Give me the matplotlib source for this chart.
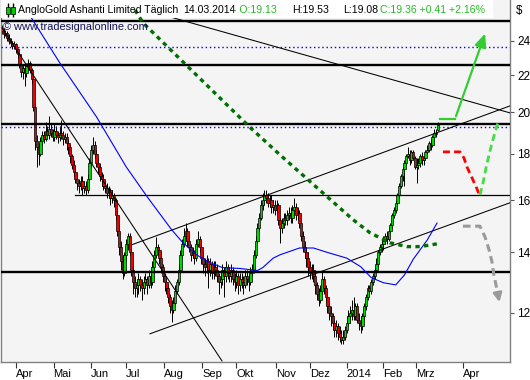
import numpy as np
import matplotlib

matplotlib.use("agg")
import matplotlib.pyplot as plt
from matplotlib.patches import Rectangle

plt.rcParams["font.family"] = ["Liberation Sans", "DejaVu Sans"]

# daily OHLC, AngloGold Ashanti (Mar 2013 - 14.03.2014)
opens = [
    24.8, 24.6, 24.4, 24.5, 24.2, 24.0, 23.9, 23.7, 23.8, 23.5,
    23.2, 22.6, 22.2, 22.4, 22.1, 22.5, 22.7, 22.3, 21.8, 20.3,
    18.6, 18.3, 18.0, 18.6, 18.9, 18.7, 19.1, 18.9, 19.2, 19.0,
    18.8, 19.1, 18.9, 18.8, 19.0, 18.9, 18.7, 18.8, 18.5, 18.3,
    17.9, 17.5, 17.2, 16.9, 16.7, 16.6, 16.8, 16.5, 16.6, 16.4,
    16.9, 17.6, 18.2, 18.4, 18.0, 17.6, 17.4, 17.0, 16.9, 16.6,
    16.5, 16.3, 16.4, 16.1, 16.2, 16.0, 15.4, 14.8, 14.2, 13.7,
    13.3, 13.9, 14.3, 14.6, 14.0, 13.4, 13.0, 12.8, 12.9, 13.1,
    12.9, 12.8, 13.0, 13.1, 12.9, 13.2, 13.0, 13.5, 13.9, 14.2,
    14.1, 13.8, 13.5, 13.2, 13.0, 12.8, 12.5, 12.2, 12.1, 12.3,
    12.7, 13.0, 13.4, 13.9, 14.3, 14.6, 14.8, 14.4, 14.2, 13.9,
    14.0, 13.8, 14.3, 14.5, 14.2, 13.8, 13.6, 13.5, 13.7, 13.4,
    13.6, 13.3, 13.5, 13.4, 13.2, 13.0, 13.1, 13.4, 13.2, 13.5,
    13.3, 13.2, 13.4, 13.1, 13.0, 13.2, 12.9, 13.1, 13.0, 12.9,
    13.2, 13.1, 13.0, 13.3, 13.4, 13.9, 14.4, 14.9, 15.3, 15.8,
    16.0, 16.2, 16.1, 15.9, 16.0, 15.7, 15.8, 15.6, 15.8, 15.2,
    14.9, 15.1, 15.3, 15.2, 15.4, 15.5, 15.3, 15.6, 15.7, 15.4,
    15.5, 15.1, 14.6, 14.2, 14.0, 13.8, 13.5, 13.3, 13.4, 13.2,
    12.9, 12.6, 12.4, 12.7, 13.1, 12.8, 12.5, 12.2, 12.0, 11.9,
    11.7, 11.5, 11.6, 11.4, 11.3, 11.2, 11.3, 11.5, 11.7, 11.9,
    12.0, 12.1, 11.9, 12.2, 11.8, 11.7, 11.6, 11.9, 12.2, 12.5,
    12.8, 12.7, 13.0, 13.2, 13.4, 13.6, 14.0, 14.2, 14.3, 14.4,
    14.6, 14.5, 14.8, 15.0, 15.4, 15.6, 15.9, 16.2, 16.6, 17.0,
    17.3, 17.6, 17.9, 18.0, 17.7, 18.1, 17.8, 17.4, 17.5, 17.6,
    17.9, 17.7, 17.8, 18.1, 18.2, 18.5, 18.4, 18.8, 19.0, 19.13,
]
highs = [
    25.0, 24.8, 24.7, 24.6, 24.4, 24.2, 24.0, 24.0, 23.9, 23.6,
    23.3, 22.8, 22.6, 22.6, 22.7, 22.9, 22.8, 22.4, 21.9, 20.5,
    18.9, 18.5, 18.8, 19.1, 19.1, 19.5, 19.3, 19.8, 19.4, 19.2,
    19.4, 19.3, 19.1, 19.3, 19.6, 19.1, 19.0, 19.0, 18.7, 18.4,
    18.0, 17.7, 17.4, 17.1, 16.9, 17.0, 17.0, 16.8, 16.8, 17.1,
    17.8, 18.4, 18.8, 18.6, 18.2, 17.8, 17.6, 17.2, 17.1, 16.8,
    16.7, 16.6, 16.5, 16.4, 16.3, 16.1, 15.6, 15.0, 14.4, 13.9,
    14.0, 14.5, 14.7, 14.7, 14.2, 13.6, 13.2, 13.1, 13.3, 13.2,
    13.1, 13.2, 13.3, 13.2, 13.4, 13.3, 13.7, 14.1, 14.55, 14.3,
    14.2, 14.0, 13.6, 13.3, 13.1, 12.9, 12.6, 12.4, 12.5, 12.9,
    13.1, 13.6, 14.1, 14.5, 14.9, 15.1, 14.9, 14.6, 14.3, 14.2,
    14.1, 14.5, 14.8, 14.6, 14.3, 14.0, 13.8, 13.9, 13.8, 13.8,
    13.7, 13.7, 13.7, 13.6, 13.3, 13.3, 13.6, 13.5, 13.7, 13.6,
    13.5, 13.6, 13.5, 13.3, 13.4, 13.3, 13.3, 13.3, 13.2, 13.4,
    13.4, 13.3, 13.5, 13.6, 14.1, 14.6, 15.1, 15.5, 16.0, 16.3,
    16.4, 16.4, 16.3, 16.2, 16.2, 16.0, 16.0, 16.0, 15.9, 15.3,
    15.3, 15.5, 15.5, 15.6, 15.7, 15.7, 15.8, 16.1, 15.9, 15.7,
    15.6, 15.2, 14.8, 14.4, 14.2, 14.0, 13.7, 13.6, 13.6, 13.3,
    13.0, 12.8, 12.9, 13.35, 13.2, 12.9, 12.7, 12.3, 12.2, 12.0,
    11.8, 11.8, 11.7, 11.6, 11.5, 11.5, 11.6, 11.9, 12.1, 12.2,
    12.4, 12.5, 12.3, 12.3, 12.0, 11.9, 12.0, 12.3, 12.6, 12.9,
    12.9, 13.1, 13.3, 13.5, 13.8, 14.1, 14.3, 14.5, 14.6, 14.7,
    14.8, 14.9, 15.1, 15.5, 15.7, 16.0, 16.3, 16.7, 17.1, 17.4,
    17.7, 18.0, 18.3, 18.2, 18.2, 18.2, 17.9, 17.8, 17.8, 18.0,
    18.1, 17.9, 18.2, 18.4, 18.6, 18.7, 18.9, 19.2, 19.2, 19.53,
]
lows = [
    24.4, 24.2, 24.3, 24.0, 23.8, 23.7, 23.5, 23.5, 23.3, 23.0,
    22.4, 21.9, 21.8, 21.4, 21.9, 22.3, 22.1, 21.5, 20.1, 18.2,
    17.4, 17.5, 17.9, 18.4, 18.5, 18.6, 18.7, 18.7, 18.8, 18.6,
    18.6, 18.7, 18.5, 18.6, 18.7, 18.4, 18.5, 18.2, 18.0, 17.6,
    17.3, 17.0, 16.7, 16.4, 16.3, 16.4, 16.2, 16.3, 16.2, 16.3,
    16.8, 17.4, 18.0, 17.8, 17.4, 17.1, 16.8, 16.6, 16.4, 16.3,
    16.1, 16.1, 15.8, 15.9, 15.7, 15.2, 14.6, 13.9, 13.4, 13.1,
    13.2, 13.7, 14.1, 13.9, 13.2, 12.6, 12.5, 12.5, 12.6, 12.7,
    12.4, 12.6, 12.8, 12.6, 12.8, 12.8, 12.9, 13.4, 13.8, 13.9,
    13.6, 13.3, 13.0, 12.7, 12.6, 12.3, 12.0, 11.73, 12.0, 12.2,
    12.6, 12.9, 13.3, 13.8, 14.2, 14.4, 14.2, 14.0, 13.7, 13.8,
    13.6, 13.7, 14.2, 14.0, 13.6, 13.3, 13.2, 13.3, 12.8, 13.2,
    13.1, 13.1, 13.2, 13.0, 12.6, 12.8, 12.9, 12.5, 13.0, 13.1,
    13.0, 13.0, 12.9, 12.7, 12.8, 12.6, 12.7, 12.8, 12.6, 12.8,
    12.9, 12.7, 12.9, 13.2, 13.3, 13.8, 14.3, 14.8, 15.2, 15.6,
    15.8, 15.9, 15.7, 15.7, 15.5, 15.5, 15.4, 15.5, 15.0, 14.35,
    14.7, 14.9, 15.0, 15.0, 15.2, 15.1, 15.1, 15.4, 15.2, 15.2,
    14.9, 14.4, 14.0, 13.8, 13.5, 13.2, 13.1, 13.1, 13.0, 12.6,
    12.4, 12.2, 12.3, 12.6, 12.6, 12.3, 12.0, 11.8, 11.6, 11.5,
    11.3, 11.3, 11.2, 11.15, 11.1, 11.1, 11.2, 11.4, 11.6, 11.7,
    11.8, 11.8, 11.8, 11.7, 11.5, 11.4, 11.5, 11.8, 12.1, 12.4,
    12.5, 12.6, 12.9, 13.1, 13.3, 13.5, 13.9, 14.0, 14.1, 14.3,
    14.3, 14.4, 14.7, 14.9, 15.3, 15.5, 15.8, 16.1, 16.5, 16.8,
    16.6, 17.5, 17.8, 17.5, 17.6, 17.7, 17.3, 16.7, 17.3, 17.4,
    17.5, 17.5, 17.7, 18.0, 18.1, 18.2, 18.3, 18.7, 18.8, 19.08,
]
closes = [
    24.6, 24.4, 24.5, 24.2, 24.0, 23.9, 23.7, 23.8, 23.5, 23.2,
    22.6, 22.2, 22.4, 22.1, 22.5, 22.7, 22.3, 21.8, 20.3, 18.6,
    18.3, 18.0, 18.6, 18.9, 18.7, 19.1, 18.9, 19.2, 19.0, 18.8,
    19.1, 18.9, 18.8, 19.0, 18.9, 18.7, 18.8, 18.5, 18.3, 17.9,
    17.5, 17.2, 16.9, 16.7, 16.6, 16.8, 16.5, 16.6, 16.4, 16.9,
    17.6, 18.2, 18.4, 18.0, 17.6, 17.4, 17.0, 16.9, 16.6, 16.5,
    16.3, 16.4, 16.1, 16.2, 16.0, 15.4, 14.8, 14.2, 13.7, 13.3,
    13.9, 14.3, 14.6, 14.0, 13.4, 13.0, 12.8, 12.9, 13.1, 12.9,
    12.8, 13.0, 13.1, 12.9, 13.2, 13.0, 13.5, 13.9, 14.2, 14.1,
    13.8, 13.5, 13.2, 13.0, 12.8, 12.5, 12.2, 12.1, 12.3, 12.7,
    13.0, 13.4, 13.9, 14.3, 14.6, 14.8, 14.4, 14.2, 13.9, 14.0,
    13.8, 14.3, 14.5, 14.2, 13.8, 13.6, 13.5, 13.7, 13.4, 13.6,
    13.3, 13.5, 13.4, 13.2, 13.0, 13.1, 13.4, 13.2, 13.5, 13.3,
    13.2, 13.4, 13.1, 13.0, 13.2, 12.9, 13.1, 13.0, 12.9, 13.2,
    13.1, 13.0, 13.3, 13.4, 13.9, 14.4, 14.9, 15.3, 15.8, 16.0,
    16.2, 16.1, 15.9, 16.0, 15.7, 15.8, 15.6, 15.8, 15.2, 14.9,
    15.1, 15.3, 15.2, 15.4, 15.5, 15.3, 15.6, 15.7, 15.4, 15.5,
    15.1, 14.6, 14.2, 14.0, 13.8, 13.5, 13.3, 13.4, 13.2, 12.9,
    12.6, 12.4, 12.7, 13.1, 12.8, 12.5, 12.2, 12.0, 11.9, 11.7,
    11.5, 11.6, 11.4, 11.3, 11.2, 11.3, 11.5, 11.7, 11.9, 12.0,
    12.1, 11.9, 12.2, 11.8, 11.7, 11.6, 11.9, 12.2, 12.5, 12.8,
    12.7, 13.0, 13.2, 13.4, 13.6, 14.0, 14.2, 14.3, 14.4, 14.6,
    14.5, 14.8, 15.0, 15.4, 15.6, 15.9, 16.2, 16.6, 17.0, 17.3,
    17.6, 17.9, 18.0, 17.7, 18.1, 17.8, 17.4, 17.5, 17.6, 17.9,
    17.7, 17.8, 18.1, 18.2, 18.5, 18.4, 18.8, 19.0, 18.95, 19.36,
]

month_pos = [7.8, 29.5, 50.9, 70.9, 92.7, 114.3, 133.9, 156.4, 176.2, 197.0, 217.9, 236.6, 263.3]
month_labels = ["Apr", "Mai", "Jun", "Jul", "Aug", "Sep", "Okt", "Nov", "Dez", "2014", "Feb", "Mrz", "Apr"]
price_ticks = [12, 14, 16, 18, 20, 22, 24]

# blue moving average (bar, price)
ma_x = [16, 33, 54, 71, 83, 97, 103, 111, 119, 126, 136, 146, 149, 155, 159, 170, 178, 186, 197, 205, 211, 218, 225, 230, 235, 243, 248.6]
ma_y = [25.6, 22.7, 19.78, 17.41, 16.13, 14.83, 14.38, 13.92, 13.64, 13.47, 13.44, 13.37, 13.47, 13.8, 13.92, 14.16, 14.16, 14.0, 13.8, 13.5, 13.13, 12.96, 12.89, 13.22, 13.76, 14.45, 15.09]

# dark green dotted average
ma2_x = [76, 80.6, 141.7, 158.9, 200.6, 210.3, 221.7, 231.4, 238.9, 248.6]
ma2_y = [25.97, 25.13, 19.26, 17.95, 15.22, 14.72, 14.35, 14.21, 14.21, 14.31]

thick_levels = [25.25, 22.55, 19.43, 13.32]
dotted_levels = [23.62, 19.26]
support_level = 16.21
support_start = 41.7

# trend lines ((x0, x1), (y0, y1))
trend_lines = [
    ((0.0, 125.7), (24.81, 10.62)),
    ((75.0, 290.3), (26.2, 19.98)),
    ((74.3, 290.3), (14.28, 20.34)),
    ((84.6, 290.3), (11.38, 15.89)),
]

# scenarios
bull_x = [250.3, 258.9, 276.6]
bull_y = [19.68, 19.68, 24.62]
bear_x = [252.0, 261.7, 264.0, 265.7, 268.6, 271.4, 273.1]
bear_y = [18.09, 18.09, 17.81, 17.41, 16.93, 16.47, 16.14]
rebound_x = [273.1, 274.9, 276.6, 278.3, 280.0, 281.7, 283.4]
rebound_y = [16.21, 16.72, 17.37, 17.95, 18.5, 19.0, 19.49]
crash_x = [263.4, 273.1, 276.0, 278.3, 280.0, 281.1, 282.9, 284.6]
crash_y = [14.97, 14.97, 14.57, 14.1, 13.67, 13.22, 12.72, 12.25]

W, H = 530, 380
fig = plt.figure(figsize=(W / 100, H / 100), dpi=100)
fig.patch.set_facecolor("white")
ax = fig.add_axes([1 / W, 18 / H, 509 / W, 362 / H])
ax.set_facecolor("#f4f4f4")
ax.set_yscale("log")
ax.set_ylim(10.59, 26.64)
ax.set_xlim(-0.57, 290.3)

o = np.array(opens)
c = np.array(closes)
x = np.arange(len(c))
up = c >= o
body_lo = np.minimum(o, c)
body_h = np.maximum(np.abs(c - o), 0.03)
ax.vlines(x, lows, highs, color="black", lw=0.7, zorder=2)
ax.bar(x, body_h, bottom=body_lo, width=1.25,
       color=np.where(up, "#00d800", "#f00000"), edgecolor="black", linewidth=0.5, zorder=2)

for lvl in thick_levels:
    ax.axhline(lvl, color="black", lw=1.7, zorder=3)
for lvl in dotted_levels:
    ax.axhline(lvl, color="#0000ff", lw=1.0, ls=(0, (1, 2)), zorder=3)
ax.plot([support_start, 290.3], [support_level, support_level], color="black", lw=0.9, zorder=3)

for (tx, ty) in trend_lines:
    ax.plot(tx, ty, color="black", lw=0.75, zorder=3)

ax.plot(ma_x, ma_y, color="#0000ff", lw=0.8, zorder=3)
ax.plot(ma2_x, ma2_y, color="#006e00", lw=2.4, ls=(0, (1.3, 1.3)), zorder=6, clip_on=False)

ax.plot(bull_x[:2], bull_y[:2], color="#33cc33", lw=1.6, zorder=5)
ax.annotate("", xy=(bull_x[2], bull_y[2]), xytext=(bull_x[1], bull_y[1]),
            arrowprops=dict(arrowstyle="-|>,head_length=0.8,head_width=0.35", color="#33cc33", lw=1.6), zorder=5)
ax.plot(bear_x, bear_y, color="#ff0000", lw=2.0, ls=(0, (2.5, 1.5)), zorder=5)
ax.plot(rebound_x, rebound_y, color="#44dd44", lw=2.0, ls=(0, (2.5, 1.5)), zorder=5)
ax.plot(crash_x[:-1], crash_y[:-1], color="#9a9a9a", lw=2.2, ls=(0, (2.5, 1.5)), zorder=5)
ax.annotate("", xy=(crash_x[-1], crash_y[-1]), xytext=(crash_x[-2], crash_y[-2]),
            arrowprops=dict(arrowstyle="-|>,head_length=0.5,head_width=0.25", color="#9a9a9a", lw=2.0), zorder=5)

# header box
ax.add_patch(Rectangle((0, (362 - 18) / 362), 492 / 509, 18 / 362, transform=ax.transAxes,
                       facecolor="white", edgecolor="none", zorder=4, clip_on=False))

ax.yaxis.tick_right()
ax.set_yticks(price_ticks)
ax.set_yticklabels([str(t) for t in price_ticks])
ax.yaxis.set_minor_locator(matplotlib.ticker.NullLocator())
ax.set_xticks(month_pos)
ax.set_xticklabels(month_labels, ha="left")
ax.tick_params(axis="y", direction="out", length=3, width=0.8, color="#555555", labelsize=8.5, pad=2)
ax.tick_params(axis="x", direction="out", length=4, width=0.8, color="#333333", labelsize=8, pad=1)
for side in ["left", "right", "bottom"]:
    ax.spines[side].set_color("#808080")
    ax.spines[side].set_linewidth(1.0)
ax.spines["top"].set_visible(False)


def fx(px):
    return px / W


def fy(py):
    return 1 - py / H


hdr = dict(fontsize=7.6, va="center", zorder=10)
fig.text(fx(18), fy(10), "AngloGold Ashanti Limited Täglich", color="black", **hdr)
fig.text(fx(183), fy(10), "14.03.2014", color="black", **hdr)
fig.text(fx(233), fy(10), "- O:19.13", color="#22bb22", **hdr)
fig.text(fx(292), fy(10), "H:19.53", color="black", **hdr)
fig.text(fx(343), fy(10), "L:19.08", color="black", **hdr)
fig.text(fx(380), fy(10), "C:19.36 +0.41 +2.16%", color="#22bb22", **hdr)
fig.text(fx(3), fy(27), "© www.tradesignalonline.com", color="#15155a", fontsize=7.9, va="center", zorder=10)
fig.text(fx(516), fy(11), "$", color="black", fontsize=8.3, va="center")

# candle icon
for cx in (6, 11):
    fig.add_artist(Rectangle((fx(cx + 1.5), fy(17)), 0.6 / W, 14 / H, color="black", zorder=11))
    fig.add_artist(Rectangle((fx(cx), fy(13.5)), 3.5 / W, 7 / H, facecolor="#00cc00",
                             edgecolor="black", linewidth=0.5, zorder=12))

fig.savefig("out.png", dpi=100)
